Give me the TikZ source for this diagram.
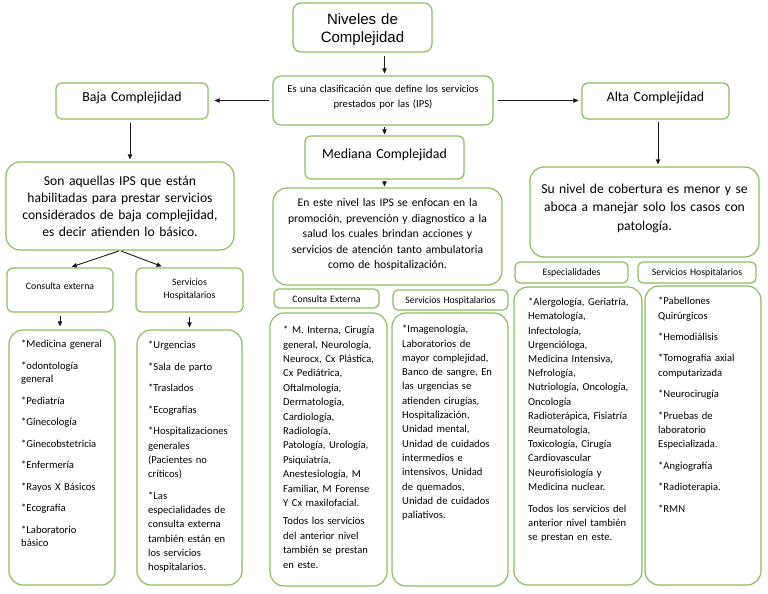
\documentclass[tikz,border=0pt]{standalone}
\usepackage{fontspec}
\setmainfont{Carlito}
\newfontfamily\arialfont{Liberation Sans}
\usetikzlibrary{arrows.meta,calc}
\definecolor{gborder}{RGB}{137,190,96}
\definecolor{arrowcol}{RGB}{25,25,25}
\begin{document}
\begin{tikzpicture}[x=1pt,y=-1pt,
  gbox/.style={draw=gborder, line width=1.2pt, rounded corners=#1, inner sep=0pt},
  gbox/.default=6pt,
  arr/.style={draw=arrowcol, line width=0.9pt, -{Triangle[length=5pt,width=4.5pt]}},
  ctext/.style={inner sep=0pt, align=center, text width=#1},
  ctext/.default=240pt,
  listtxt/.style={anchor=north west, inner sep=0pt, text width=160pt, align=left},
  bigfont/.style={font=\fontsize{13.8}{17}\selectfont},
  smallfont/.style={font=\fontsize{9.8}{13}\selectfont},
  listfont/.style={font=\fontsize{10.6}{#1}\selectfont}
]
\path[use as bounding box, fill=white] (0,0) rectangle (768,594);

% ---------- boxes ----------
\node[gbox=8pt, minimum width=139pt, minimum height=49pt] (niv) at (362.5,27.5) {};
\node[gbox=8pt, minimum width=220pt, minimum height=49pt] (clas) at (383,100.5) {};
\node[gbox=6pt, minimum width=152pt, minimum height=36pt] (baja) at (132,101) {};
\node[gbox=6pt, minimum width=147pt, minimum height=36pt] (alta) at (655.5,101) {};
\node[gbox=6pt, minimum width=159pt, minimum height=43pt] (med) at (384.5,157.5) {};
\node[gbox=14pt, minimum width=229pt, minimum height=97pt] (meddesc) at (387.5,236.5) {};
\node[gbox=14pt, minimum width=228pt, minimum height=88pt] (bajadesc) at (120,206) {};
\node[gbox=14pt, minimum width=229pt, minimum height=90pt] (altadesc) at (644.5,212) {};
\node[gbox=6pt, minimum width=106pt, minimum height=44pt] (ce1) at (60,290) {};
\node[gbox=6pt, minimum width=107pt, minimum height=44pt] (sh1) at (189.5,290) {};
\node[gbox=14pt, minimum width=106pt, minimum height=255pt] (l1) at (62,457.5) {};
\node[gbox=14pt, minimum width=105pt, minimum height=255pt] (l2) at (189.5,457.5) {};
\node[gbox=5pt, minimum width=105pt, minimum height=19pt] (ce2) at (326.5,298.5) {};
\node[gbox=5pt, minimum width=115pt, minimum height=20pt] (sh2) at (450.5,300) {};
\node[gbox=14pt, minimum width=117pt, minimum height=273pt] (l3) at (328.5,449.5) {};
\node[gbox=14pt, minimum width=116pt, minimum height=273pt] (l4) at (450,449.5) {};
\node[gbox=5pt, minimum width=113pt, minimum height=21pt] (esp) at (571.5,272.5) {};
\node[gbox=5pt, minimum width=118pt, minimum height=21pt] (sh3) at (697,272.5) {};
\node[gbox=14pt, minimum width=128pt, minimum height=298pt] (l5) at (578,436) {};
\node[gbox=14pt, minimum width=116pt, minimum height=299pt] (l6) at (703,435.5) {};

% ---------- titles and descriptions ----------
\node[ctext=138pt, font=\arialfont\fontsize{15}{18}\selectfont] (tniv) at (362.5,30) {Niveles de\\Complejidad};
\node[ctext=218pt, font=\fontsize{10.6}{15}\selectfont] (tclas) at (383,97) {Es una clasificación que define los servicios\\prestados por las (IPS)};
\node[ctext=150pt, bigfont] (tbaja) at (132,97.5) {Baja Complejidad};
\node[ctext=145pt, bigfont] (talta) at (655.5,97.5) {Alta Complejidad};
\node[ctext=157pt, bigfont] (tmed) at (384.5,154.5) {Mediana Complejidad};
\node[ctext=228pt, font=\fontsize{11.6}{15.5}\selectfont] (tmeddesc) at (387.5,234.5) {En este nivel las IPS se enfocan en la\\promoción, prevención y diagnostico a la\\salud los cuales brindan acciones y\\servicios de atención tanto ambulatoria\\como de hospitalización.};
\node[ctext=226pt, font=\fontsize{13.6}{17}\selectfont] (tbajadesc) at (120,206) {Son aquellas IPS que están\\habilitadas para prestar servicios\\considerados de baja complejidad,\\es decir atienden lo básico.};
\node[ctext=228pt, font=\fontsize{13.6}{18.5}\selectfont] (taltadesc) at (644.5,208) {Su nivel de cobertura es menor y se\\aboca a manejar solo los casos con\\patología.};

% ---------- small labels ----------
\node[ctext=104pt, smallfont] (tce1) at (60,286) {Consulta externa};
\node[ctext=104pt, smallfont] (tsh1) at (189.5,289) {Servicios\\Hospitalarios};
\node[ctext=104pt, smallfont] (tce2) at (326.5,299.5) {Consulta Externa};
\node[ctext=114pt, smallfont] (tsh2) at (450.5,300.5) {Servicios Hospitalarios};
\node[ctext=112pt, smallfont] (tesp) at (571.5,273) {Especialidades};
\node[ctext=117pt, smallfont] (tsh3) at (697,273) {Servicios Hospitalarios};

% ---------- lists ----------
\node[listtxt, listfont=13.5] (tl1) at (21,338) {\setlength{\parskip}{8pt}\strut *Medicina general\par *odontología\\general\par *Pediatría\par *Ginecología\par *Ginecobstetricia\par *Enfermería\par *Rayos X Básicos\par *Ecografía\par *Laboratorio\\básico};
\node[listtxt, listfont=14.3] (tl2) at (148,338.5) {\setlength{\parskip}{7.2pt}\strut *Urgencias\par *Sala de parto\par *Traslados\par *Ecografías\par *Hospitalizaciones\\generales\\(Pacientes no\\críticos)\par *Las\\especialidades de\\consulta externa\\también están en\\los servicios\\hospitalarios.};
\node[listtxt, listfont=14.4] (tl3) at (283,323.4) {\setlength{\parskip}{4pt}\strut * M. Interna, Cirugía\\general, Neurología,\\Neurocx, Cx Plástica,\\Cx Pediátrica,\\Oftalmología,\\Dermatología,\\Cardiología,\\Radiología,\\Patología, Urología,\\Psiquiatría,\\Anestesiología, M\\Familiar, M Forense\\Y Cx maxilofacial.\par Todos los servicios\\del anterior nivel\\también se prestan\\en este.};
\node[listtxt, listfont=14.3] (tl4) at (402,322.5) {\strut *Imagenología,\\Laboratorios de\\mayor complejidad,\\Banco de sangre, En\\las urgencias se\\atienden cirugías,\\Hospitalización,\\Unidad mental,\\Unidad de cuidados\\intermedios e\\intensivos, Unidad\\de quemados,\\Unidad de cuidados\\paliativos.};
\node[listtxt, listfont=14.2] (tl5) at (528,295.6) {\setlength{\parskip}{7.5pt}\strut *Alergología, Geriatría,\\Hematología,\\Infectología,\\Urgencióloga,\\Medicina Intensiva,\\Nefrología,\\Nutriología, Oncología,\\Oncología\\Radioterápica, Fisiatría\\Reumatología,\\Toxicología, Cirugía\\Cardiovascular\\Neurofisiología y\\Medicina nuclear.\par Todos los servicios del\\anterior nivel también\\se prestan en este.};
\node[listtxt, listfont=14.4] (tl6) at (658,294.4) {\setlength{\parskip}{7pt}\strut *Pabellones\\Quirúrgicos\par *Hemodiálisis\par *Tomografía axial\\computarizada\par *Neurocirugía\par *Pruebas de\\laboratorio\\Especializada.\par *Angiografía\par *Radioterapia.\par *RMN};

% ---------- connectors ----------
\draw[arr, shorten <=3pt, shorten >=2pt] (niv.south -| med.north) -- (clas.north -| med.north);
\draw[arr, shorten <=3pt, shorten >=6pt] (clas.west) -- (clas.west -| baja.east);
\draw[arr, shorten <=4pt, shorten >=3pt] (clas.east) -- (clas.east -| alta.west);
\draw[arr, shorten <=1pt, shorten >=1pt] (clas.south -| med.north) -- (med.north);
\draw[arr, shorten <=1pt, shorten >=1pt] (med.south) -- (med.south |- meddesc.north);
\draw[arr, shorten <=3pt, shorten >=2pt] ([xshift=-2pt]baja.south) -- ([xshift=-2pt]baja.south |- bajadesc.north);
\draw[arr, shorten <=2pt, shorten >=2pt] ([xshift=2.5pt]alta.south) -- ([xshift=2.5pt]alta.south |- altadesc.north);
\draw[arr, shorten <=1pt, shorten >=2pt] (bajadesc.south) -- ([xshift=10pt]ce1.north);
\draw[arr, shorten <=1pt, shorten >=3pt] (bajadesc.south) -- ([xshift=-25pt]sh1.north);
\draw[arr, shorten <=3pt, shorten >=3pt] (ce1.south) -- (ce1.south |- l1.north);
\draw[arr, shorten <=4pt, shorten >=2pt] (sh1.south) -- (sh1.south |- l2.north);
\end{tikzpicture}
\end{document}
